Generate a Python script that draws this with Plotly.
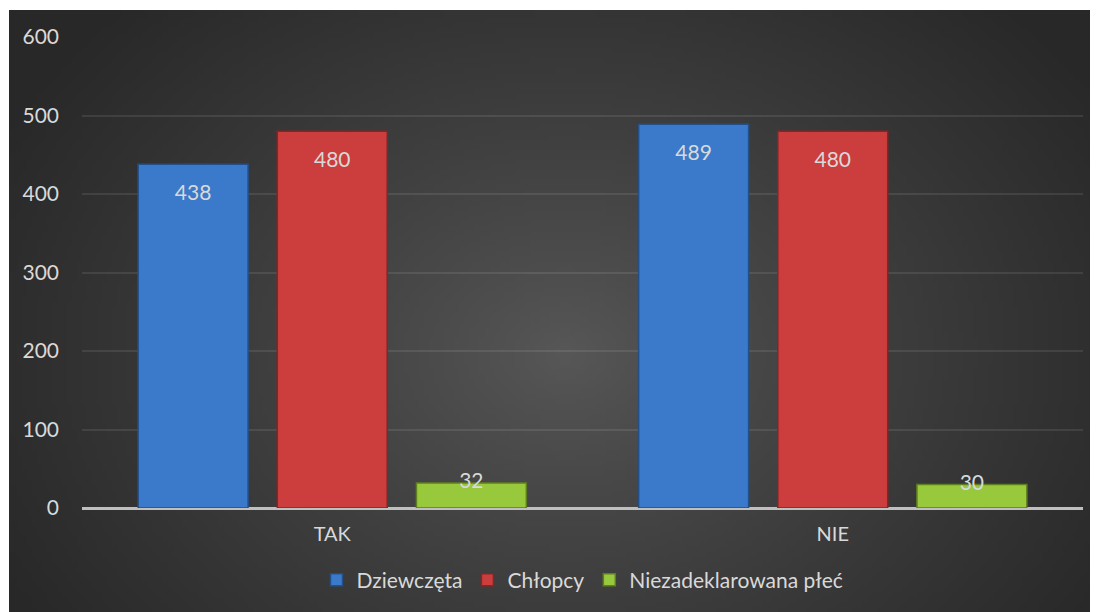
import zlib, struct, base64
import numpy as np
import plotly.graph_objects as go

categories = ["TAK", "NIE"]
dziewczeta = [438, 489]
chlopcy = [480, 480]
niezadekl = [32, 30]
series_names = ["Dziewczęta", "Chłopcy", "Niezadeklarowana płeć"]
y_ticks = [0, 100, 200, 300, 400, 500, 600]

W, H = 1098, 612
# page is offset by ~8px body margin
L, R, T, B = 74, 23, 29, 112

def make_png(arr):
    h, w, _ = arr.shape
    raw = b"".join(b"\x00" + arr[i].tobytes() for i in range(h))
    def chunk(tag, data):
        c = struct.pack(">I", len(data)) + tag + data
        return c + struct.pack(">I", zlib.crc32(tag + data) & 0xffffffff)
    png = b"\x89PNG\r\n\x1a\n"
    png += chunk(b"IHDR", struct.pack(">IIBBBBB", w, h, 8, 2, 0, 0, 0))
    png += chunk(b"IDAT", zlib.compress(raw, 9))
    png += chunk(b"IEND", b"")
    return "data:image/png;base64," + base64.b64encode(png).decode()

gw, gh = 220, 122
yy, xx = np.mgrid[0:gh, 0:gw]
cx, cy = gw * 0.5, gh * 0.55
d = np.sqrt(((xx - cx) / (gw * 0.58)) ** 2 + ((yy - cy) / (gh * 0.8)) ** 2)
d = np.clip(d, 0, 1)
c_in, c_out = 88, 40
val = (c_in + (c_out - c_in) * d ** 0.85).astype(np.uint8)
img = np.stack([val, val, val], axis=-1)
uri = make_png(img)

pw, ph = W - L - R, H - T - B
plot_bottom = H - B
x0p = (1 - L) / pw
x1p = (W + 10 - L) / pw
y0p = (plot_bottom - 2) / ph
y1p = (plot_bottom - H - 10) / ph

font = "Lato, 'Open Sans', sans-serif"
txtcol = "#d9d9d9"

fig = go.Figure()
colors = ["#3b7acb", "#cc3e3e", "#98c83c"]
lines = ["#24508a", "#8a2424", "#5f7f1f"]
all_vals = [dziewczeta, chlopcy, niezadekl]
for i, (name, vals, c, lc) in enumerate(zip(series_names, all_vals, colors, lines)):
    fig.add_trace(go.Bar(
        x=categories, y=vals, name=name, offsetgroup=str(i),
        marker=dict(color=c, line=dict(color=lc, width=1.5)),
        hoverinfo="skip",
    ))
for i, vals in enumerate(all_vals):
    fits = [v > 60 for v in vals]
    fig.add_trace(go.Scatter(
        x=categories, y=vals, mode="markers+text", offsetgroup=str(i),
        text=[str(v) for v in vals],
        textposition=["bottom center" if f else "middle center" for f in fits],
        marker=dict(size=[30 if f else 1 for f in fits], color="rgba(0,0,0,0)",
                    opacity=0, line=dict(width=0, color="rgba(0,0,0,0)")),
        textfont=dict(family=font, size=21, color=txtcol),
        showlegend=False, hoverinfo="skip", cliponaxis=False,
    ))

fig.update_layout(
    width=W, height=H,
    margin=dict(l=L, r=R, t=T, b=B),
    paper_bgcolor="white",
    plot_bgcolor="rgba(0,0,0,0)",
    barmode="group", bargap=0.166, bargroupgap=0.21,
    scattermode="group", scattergap=0.166,
    font=dict(family=font, color=txtcol),
    images=[dict(source=uri, xref="paper", yref="paper", x=x0p, y=y0p,
                 sizex=x1p - x0p, sizey=y0p - y1p, sizing="stretch",
                 xanchor="left", yanchor="top", layer="below")],
    legend=dict(orientation="h", x=0.5, xanchor="center",
                y=(plot_bottom - 572) / ph, yanchor="middle",
                font=dict(family=font, size=21, color=txtcol),
                bgcolor="rgba(0,0,0,0)", itemwidth=30, traceorder="normal"),
    showlegend=True,
)
fig.update_xaxes(showgrid=False, tickfont=dict(family=font, size=20, color=txtcol),
                 ticks="", showline=False, zeroline=False, ticklabelstandoff=12)
fig.update_yaxes(range=[0, 600], tickvals=y_ticks, showgrid=True,
                 gridcolor="rgba(255,255,255,0.09)", gridwidth=1.5,
                 zeroline=True, zerolinecolor="#bfbfbf", zerolinewidth=2.5,
                 tickfont=dict(family=font, size=21, color=txtcol),
                 ticklabelstandoff=22, showline=False)

fig.write_html("out.html")
